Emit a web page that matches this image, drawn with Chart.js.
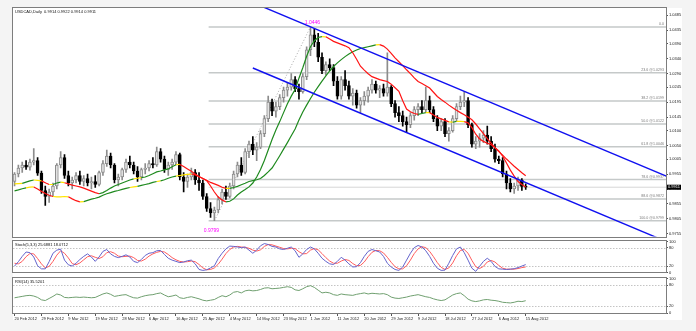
<!DOCTYPE html>
<html>
<head>
<meta charset="utf-8">
<script src="https://cdn.jsdelivr.net/npm/chart.js@4.4.0/dist/chart.umd.min.js"></script>
<style>
  body { margin: 0; background: #f4f4f4; }
  #wrap { position: relative; width: 696px; height: 331px; overflow: hidden; }
  #paper { position: absolute; left: 13px; top: 8px; width: 669px; height: 312px; background: #fff; }
  canvas { position: absolute; left: 0; }
</style>
</head>
<body>
<div id="wrap">
  <div id="paper"></div>
  <canvas id="main" width="696" height="240" style="top:0;width:696px;height:240px"></canvas>
  <canvas id="stoch" width="696" height="38" style="top:238px;width:696px;height:38px"></canvas>
  <canvas id="rsi" width="696" height="56" style="top:275px;width:696px;height:56px"></canvas>
</div>
<script>
// USDCAD daily bars, 20 Feb 2012 .. 15 Aug 2012
const dateLabels = ['20 Feb 2012', '29 Feb 2012', '9 Mar 2012', '19 Mar 2012', '28 Mar 2012',
  '6 Apr 2012', '16 Apr 2012', '25 Apr 2012', '4 May 2012', '14 May 2012', '23 May 2012',
  '1 Jun 2012', '11 Jun 2012', '20 Jun 2012', '29 Jun 2012', '9 Jul 2012', '18 Jul 2012',
  '27 Jul 2012', '6 Aug 2012', '15 Aug 2012'];

const open = [
  0.9930,0.9955,0.9975,0.9985,0.9978,0.9995,1.0000,0.9958,0.9900,0.9880,
  0.9895,0.9915,0.9985,1.0010,0.9950,0.9925,0.9935,0.9950,0.9930,0.9940,
  0.9925,0.9930,0.9920,0.9960,0.9990,1.0015,0.9985,0.9935,0.9945,0.9970,
  0.9995,0.9985,0.9965,0.9945,0.9970,0.9975,0.9990,0.9985,1.0030,1.0005,
  0.9970,0.9985,0.9995,1.0020,0.9945,0.9930,0.9945,0.9960,0.9935,0.9925,
  0.9880,0.9840,0.9825,0.9835,0.9870,0.9895,0.9880,0.9915,0.9955,0.9985,
  0.9960,1.0030,1.0055,1.0035,1.0045,1.0090,1.0140,1.0195,1.0165,1.0180,
  1.0210,1.0235,1.0245,1.0270,1.0240,1.0230,1.0280,1.0370,1.0420,1.0395,
  1.0345,1.0300,1.0320,1.0310,1.0265,1.0215,1.0270,1.0250,1.0215,1.0225,
  1.0185,1.0200,1.0215,1.0235,1.0255,1.0235,1.0240,1.0225,1.0245,1.0190,
  1.0160,1.0150,1.0130,1.0120,1.0150,1.0170,1.0180,1.0170,1.0200,1.0170,
  1.0140,1.0115,1.0130,1.0090,1.0100,1.0140,1.0180,1.0195,1.0200,1.0120,
  1.0055,1.0065,1.0075,1.0085,1.0065,1.0040,1.0005,1.0000,0.9955,0.9925,
  0.9905,0.9915,0.9935,0.9914];
const high = [
  0.9960,0.9985,0.9995,1.0000,1.0005,1.0040,1.0010,0.9965,0.9915,0.9905,
  0.9925,0.9990,1.0030,1.0020,0.9965,0.9945,0.9960,0.9965,0.9950,0.9955,
  0.9945,0.9950,0.9965,1.0000,1.0035,1.0025,0.9990,0.9955,0.9975,1.0005,
  1.0015,0.9995,0.9980,0.9975,0.9990,1.0000,1.0010,1.0045,1.0040,1.0015,
  0.9995,1.0005,1.0030,1.0025,0.9960,0.9955,0.9975,0.9970,0.9960,0.9935,
  0.9890,0.9860,0.9845,0.9880,0.9905,0.9915,0.9925,0.9965,0.9995,1.0010,
  1.0040,1.0065,1.0080,1.0060,1.0100,1.0150,1.0215,1.0205,1.0195,1.0220,
  1.0245,1.0260,1.0290,1.0280,1.0255,1.0290,1.0380,1.0446,1.0440,1.0425,
  1.0360,1.0330,1.0340,1.0320,1.0280,1.0280,1.0300,1.0265,1.0240,1.0235,
  1.0210,1.0230,1.0245,1.0270,1.0265,1.0250,1.0255,1.0360,1.0250,1.0200,
  1.0180,1.0165,1.0145,1.0160,1.0180,1.0190,1.0200,1.0245,1.0215,1.0180,
  1.0150,1.0140,1.0140,1.0110,1.0150,1.0190,1.0215,1.0230,1.0210,1.0125,
  1.0080,1.0090,1.0100,1.0115,1.0080,1.0055,1.0015,1.0010,0.9965,0.9940,
  0.9925,0.9945,0.9940,0.9922];
const low = [
  0.9915,0.9945,0.9960,0.9970,0.9968,0.9985,0.9950,0.9890,0.9850,0.9860,
  0.9880,0.9905,0.9975,0.9940,0.9915,0.9905,0.9925,0.9920,0.9915,0.9915,
  0.9905,0.9910,0.9915,0.9950,0.9980,0.9975,0.9925,0.9915,0.9935,0.9960,
  0.9975,0.9955,0.9930,0.9935,0.9955,0.9965,0.9975,0.9980,0.9995,0.9960,
  0.9950,0.9970,0.9985,0.9935,0.9895,0.9910,0.9935,0.9920,0.9900,0.9870,
  0.9830,0.9810,0.9799,0.9825,0.9855,0.9870,0.9875,0.9905,0.9945,0.9950,
  0.9955,1.0010,1.0020,1.0000,1.0040,1.0080,1.0130,1.0150,1.0145,1.0170,
  1.0195,1.0215,1.0235,1.0230,1.0205,1.0225,1.0270,1.0350,1.0380,1.0330,
  1.0290,1.0285,1.0300,1.0250,1.0205,1.0205,1.0235,1.0205,1.0185,1.0175,
  1.0160,1.0185,1.0195,1.0225,1.0225,1.0210,1.0215,1.0215,1.0180,1.0145,
  1.0130,1.0115,1.0095,1.0110,1.0135,1.0150,1.0160,1.0160,1.0160,1.0130,
  1.0100,1.0100,1.0080,1.0065,1.0095,1.0130,1.0170,1.0180,1.0110,1.0045,
  1.0040,1.0045,1.0060,1.0055,1.0030,0.9995,0.9990,0.9945,0.9905,0.9895,
  0.9890,0.9900,0.9900,0.9904];
const close = [
  0.9955,0.9975,0.9985,0.9978,0.9995,1.0000,0.9958,0.9900,0.9880,0.9895,
  0.9915,0.9985,1.0010,0.9950,0.9925,0.9935,0.9950,0.9930,0.9940,0.9925,
  0.9930,0.9920,0.9960,0.9990,1.0015,0.9985,0.9935,0.9945,0.9970,0.9995,
  0.9985,0.9965,0.9945,0.9970,0.9975,0.9990,0.9985,1.0030,1.0005,0.9970,
  0.9985,0.9995,1.0020,0.9945,0.9930,0.9945,0.9960,0.9935,0.9925,0.9880,
  0.9840,0.9825,0.9835,0.9870,0.9895,0.9880,0.9915,0.9955,0.9985,0.9960,
  1.0030,1.0055,1.0035,1.0045,1.0090,1.0140,1.0195,1.0165,1.0180,1.0210,
  1.0235,1.0245,1.0270,1.0240,1.0230,1.0280,1.0370,1.0420,1.0395,1.0345,
  1.0300,1.0320,1.0310,1.0265,1.0215,1.0270,1.0250,1.0215,1.0225,1.0185,
  1.0200,1.0215,1.0235,1.0255,1.0235,1.0240,1.0225,1.0245,1.0190,1.0160,
  1.0150,1.0130,1.0120,1.0150,1.0170,1.0180,1.0170,1.0200,1.0170,1.0140,
  1.0115,1.0130,1.0090,1.0100,1.0140,1.0180,1.0195,1.0200,1.0120,1.0055,
  1.0065,1.0075,1.0085,1.0065,1.0040,1.0005,1.0000,0.9955,0.9925,0.9905,
  0.9915,0.9935,0.9914,0.9911];

// moving averages as plotted on the chart
const maFast = [
  0.9899,0.9902,0.9906,0.9909,0.9911,0.9912,0.9905,0.9897,0.9890,0.9884,
  0.9880,0.9879,0.9879,0.9880,0.9879,0.9872,0.9866,0.9862,0.9863,0.9867,
  0.9871,0.9874,0.9878,0.9884,0.9889,0.9893,0.9897,0.9900,0.9904,0.9907,
  0.9910,0.9912,0.9914,0.9917,0.9920,0.9923,0.9927,0.9930,0.9932,0.9936,
  0.9941,0.9945,0.9948,0.9950,0.9952,0.9954,0.9955,0.9952,0.9946,0.9940,
  0.9933,0.9915,0.9895,0.9878,0.9868,0.9862,0.9864,0.9872,0.9885,0.9895,
  0.9903,0.9912,0.9925,0.9945,0.9970,1.0000,1.0035,1.0070,1.0102,1.0130,
  1.0160,1.0190,1.0215,1.0237,1.0275,1.0310,1.0348,1.0380,1.0400,1.0411,
  1.0414,1.0413,1.0406,1.0398,1.0393,1.0388,1.0383,1.0377,1.0360,1.0338,
  1.0315,1.0302,1.0290,1.0280,1.0275,1.0270,1.0267,1.0264,1.0255,1.0243,
  1.0231,1.0200,1.0172,1.0163,1.0157,1.0154,1.0157,1.0160,1.0160,1.0152,
  1.0144,1.0139,1.0134,1.0129,1.0128,1.0131,1.0131,1.0130,1.0126,1.0110,
  1.0088,1.0072,1.0064,1.0058,1.0053,1.0043,1.0032,1.0015,0.9992,0.9968,
  0.9948,0.9930,0.9920,0.9912];
const maSlow = [
  0.9922,0.9923,0.9924,0.9928,0.9932,0.9935,0.9934,0.9932,0.9926,0.9920,
  0.9920,0.9925,0.9928,0.9926,0.9922,0.9918,0.9915,0.9912,0.9908,0.9903,
  0.9898,0.9893,0.9889,0.9893,0.9900,0.9908,0.9915,0.9920,0.9925,0.9930,
  0.9935,0.9939,0.9941,0.9943,0.9945,0.9950,0.9956,0.9962,0.9965,0.9969,
  0.9972,0.9979,0.9986,0.9987,0.9980,0.9972,0.9964,0.9955,0.9947,0.9940,
  0.9934,0.9927,0.9922,0.9917,0.9911,0.9907,0.9907,0.9910,0.9914,0.9919,
  0.9924,0.9930,0.9933,0.9936,0.9940,0.9950,0.9962,0.9975,0.9995,1.0016,
  1.0038,1.0060,1.0083,1.0105,1.0135,1.0162,1.0185,1.0207,1.0228,1.0247,
  1.0265,1.0283,1.0299,1.0314,1.0326,1.0337,1.0347,1.0356,1.0363,1.0369,
  1.0374,1.0377,1.0380,1.0383,1.0386,1.0387,1.0382,1.0372,1.0358,1.0343,
  1.0330,1.0317,1.0303,1.0290,1.0276,1.0264,1.0257,1.0250,1.0242,1.0228,
  1.0214,1.0204,1.0195,1.0185,1.0176,1.0168,1.0160,1.0153,1.0145,1.0136,
  1.0122,1.0106,1.0090,1.0073,1.0058,1.0043,1.0030,1.0018,1.0005,0.9993,
  0.9981,0.9970,0.9959,0.9949];

// Stochastic(5,3,3): main and signal
const stochMain = [
  21,35,52,66,64,50,22,12,12,35,
  62,72,75,40,25,21,30,42,52,60,
  50,36,50,68,74,60,52,48,52,57,
  50,36,32,42,55,62,64,70,71,58,
  46,40,36,32,34,38,40,28,10,7,
  9,15,22,45,62,76,85,84,82,80,
  82,72,62,72,86,93,90,84,82,76,
  74,78,82,70,49,60,74,82,76,62,
  46,36,28,26,36,49,40,28,18,19,
  32,52,68,74,70,66,52,30,18,10,
  7,18,40,62,80,87,82,70,52,30,
  14,7,8,30,55,76,82,64,40,14,
  4,20,36,46,36,20,12,11,10,11,
  12.5,16,21,25.6881];
const stochSignal = [
  30,28,36,51,61,60,45,28,15,20,
  36,56,70,62,47,29,25,31,41,51,
  54,49,45,51,64,67,62,53,51,52,
  53,48,39,37,43,53,60,65,68,66,
  58,48,41,36,34,35,37,35,26,15,
  9,10,15,27,43,61,74,82,84,82,
  81,78,72,69,73,84,90,89,85,81,
  77,76,78,77,67,60,61,72,77,73,
  61,48,37,30,30,37,42,39,29,22,
  23,34,51,65,71,70,63,49,33,19,
  12,12,22,40,61,76,83,80,68,51,
  32,17,10,15,31,54,71,74,62,39,
  19,13,20,34,39,34,23,14,11,11,
  11,13,16,18.0712];

// RSI(14)
const rsi = [
  44,46,48,50,51,49,45,38,36,42,
  48,55,52,45,44,45,46,45,46,45,
  44,45,50,55,58,54,48,50,52,53,
  48,44,43,47,50,52,53,56,58,52,
  47,49,52,44,42,45,47,44,41,37,
  35,37,39,45,50,47,52,60,62,58,
  64,66,64,65,68,72,73,70,71,72,
  74,76,74,67,65,70,76,79,74,66,
  58,60,58,53,51,55,53,52,51,54,
  56,58,55,57,56,55,56,53,46,43,
  42,44,46,49,51,53,50,47,45,41,
  38,36,38,45,52,56,58,50,40,35,
  33,35,38,39,37,36,34,31,30,29,
  31,34,33,35.5201];

const priceTicks = [1.0485, 1.0435, 1.0390, 1.0340, 1.0290, 1.0245, 1.0195, 1.0145,
  1.0100, 1.0050, 1.0005, 0.9955, 0.9905, 0.9855, 0.9805, 0.9755];

// Fibonacci retracement of the 0.9799 -> 1.0446 swing
const fibRatios = ['0.0', '23.6', '38.2', '50.0', '61.8', '78.6', '88.6', '100.0'];
const fibPrices = [1.0446, 1.0293, 1.0199, 1.0122, 1.0046, 0.9937, 0.9872, 0.9799];
const fibStart = 50.5;

// trend channel anchors [bar, price]
const channelUpper = [[60, 1.0538], [170, 0.99455]];
const channelLower = [[62, 1.0309], [170, 0.97272]];
const fibTrend = [[52, 0.9799], [77, 1.0446]];

const X_MIN = -0.4, X_MAX = 169.5;
const FONT = '"Liberation Sans", Arial, sans-serif';
Chart.defaults.font.family = FONT;
Chart.defaults.font.size = 4;
Chart.defaults.color = '#222';

const N = close.length;
const idx = close.map((_, i) => i);
const isUp = i => close[i] >= open[i];
const pts = arr => arr.map((v, i) => ({ x: i, y: v }));
const seg = arr => arr.map(([x, y]) => ({ x, y }));

const hiBar = high.indexOf(Math.max(...high));
const loBar = low.indexOf(Math.min(...low));

// rising = green, falling = red, flat = yellow
const maColors = {
  borderColor: c => {
    const d = c.p1.parsed.y - c.p0.parsed.y;
    return d > 0.0002 ? '#1f8a1f' : d < -0.0002 ? '#ff1414' : '#ffe400';
  }
};

function xScale(show) {
  const s = {
    type: 'linear', min: X_MIN, max: X_MAX, offset: false, display: show,
    grid: { display: show, drawOnChartArea: false, drawTicks: true, tickLength: 3, color: '#555', offset: false },
    border: { display: false }
  };
  if (show) {
    s.afterBuildTicks = sc => { sc.ticks = dateLabels.map((_, k) => ({ value: k * 7 })); };
    s.afterFit = sc => { sc.height = 18; };
    s.ticks = { autoSkip: false, maxRotation: 0, minRotation: 0, align: 'start', padding: 0,
      callback: (v, k) => dateLabels[k] };
  }
  return s;
}

function yScale(min, max, ticks, fmt) {
  return {
    type: 'linear', position: 'right', min, max,
    afterBuildTicks: sc => { sc.ticks = ticks.map(v => ({ value: v })); },
    afterFit: sc => { sc.width = 30; },
    ticks: { padding: 1, callback: fmt },
    grid: { drawOnChartArea: false, drawTicks: true, tickLength: 2, color: '#555' },
    border: { display: false }
  };
}

// panel border and caption
const panel = {
  id: 'panel',
  afterDraw(chart, args, opts) {
    const { ctx, chartArea: a } = chart;
    ctx.save();
    ctx.strokeStyle = '#7d7d7d';
    ctx.lineWidth = 1;
    ctx.strokeRect(Math.round(a.left) - 0.5, Math.round(a.top) - 0.5,
      Math.round(a.right - a.left) + 1, Math.round(a.bottom - a.top) + 1);
    ctx.fillStyle = '#111';
    ctx.font = '4px ' + FONT;
    ctx.textBaseline = 'middle';
    ctx.fillText(opts.text, a.left + 2, a.top + 3.5);
    ctx.restore();
  }
};

// dotted 20/80 levels for the oscillators
const levels = {
  id: 'levels',
  beforeDatasetsDraw(chart) {
    const { ctx, chartArea: a, scales: { y } } = chart;
    ctx.save();
    ctx.strokeStyle = '#c4c4c4';
    ctx.lineWidth = 1;
    ctx.setLineDash([1.5, 1.5]);
    [20, 80].forEach(v => {
      const py = Math.round(y.getPixelForValue(v)) + 0.5;
      ctx.beginPath(); ctx.moveTo(a.left, py); ctx.lineTo(a.right, py); ctx.stroke();
    });
    ctx.restore();
  }
};

// fibo captions, swing extremes, last price marker
const priceNotes = {
  id: 'priceNotes',
  afterDatasetsDraw(chart) {
    const { ctx, chartArea: a, scales: { x, y } } = chart;
    ctx.save();
    ctx.beginPath();
    ctx.rect(a.left, a.top, a.right - a.left, a.bottom - a.top);
    ctx.clip();
    ctx.font = '3.6px ' + FONT;
    ctx.fillStyle = '#7a7a7a';
    ctx.textAlign = 'right';
    ctx.textBaseline = 'bottom';
    fibPrices.forEach((p, k) => {
      const t = k === 0 ? fibRatios[k] : fibRatios[k] + ' @' + p.toFixed(4);
      ctx.fillText(t, a.right - 2, y.getPixelForValue(p) - 1);
    });
    ctx.font = '5px ' + FONT;
    ctx.fillStyle = '#ff00ff';
    ctx.textAlign = 'center';
    ctx.textBaseline = 'bottom';
    ctx.fillText(high[hiBar].toFixed(4), x.getPixelForValue(hiBar) + 2, y.getPixelForValue(high[hiBar]) - 2);
    ctx.textBaseline = 'top';
    ctx.fillText(low[loBar].toFixed(4), x.getPixelForValue(loBar) - 3, y.getPixelForValue(low[loBar]) + 7);
    ctx.restore();
  },
  afterDraw(chart) {
    const { ctx, chartArea: a, scales: { y } } = chart;
    const last = close[N - 1];
    const py = y.getPixelForValue(last);
    ctx.save();
    ctx.fillStyle = '#000';
    ctx.fillRect(a.right + 1, py - 2.5, 14, 5);
    ctx.fillStyle = '#fff';
    ctx.font = '4px ' + FONT;
    ctx.textBaseline = 'middle';
    ctx.fillText(last.toFixed(4), a.right + 2, py);
    ctx.restore();
  }
};

new Chart(document.getElementById('main'), {
  type: 'bar',
  data: {
    datasets: [
      ...fibPrices.map(p => ({
        type: 'line', data: [{ x: fibStart, y: p }, { x: X_MAX + 1, y: p }],
        borderColor: '#c5c9c9', borderWidth: 1.5, pointRadius: 0, clip: 0, order: 12
      })),
      { type: 'line', data: [{ x: fibStart, y: close[N - 1] }, { x: X_MAX + 1, y: close[N - 1] }],
        borderColor: '#d6d6d6', borderWidth: 1, pointRadius: 0, clip: 0, order: 12 },
      { type: 'line', data: seg(fibTrend), borderColor: '#a8a8a8', borderWidth: 1,
        borderDash: [1, 2], pointRadius: 0, clip: 0, order: 11 },
      { type: 'bar', data: idx.map(i => ({ x: i, y: [low[i], high[i]] })), barThickness: 1,
        backgroundColor: idx.map(i => isUp(i) ? '#8c8c8c' : '#000'), borderWidth: 0,
        grouped: false, order: 7 },
      { type: 'bar', data: idx.map(i => ({ x: i, y: [open[i], close[i]] })), barThickness: 3,
        backgroundColor: idx.map(i => isUp(i) ? '#e2e2e2' : '#000'),
        borderColor: idx.map(i => isUp(i) ? '#8c8c8c' : '#000'), borderWidth: 1,
        borderSkipped: false, minBarLength: 1, grouped: false, order: 6 },
      { type: 'line', data: pts(maSlow), borderWidth: 1.2, pointRadius: 0, segment: maColors,
        borderColor: '#1f8a1f', clip: 0, order: 3 },
      { type: 'line', data: pts(maFast), borderWidth: 1.2, pointRadius: 0, segment: maColors,
        borderColor: '#1f8a1f', clip: 0, order: 2 },
      { type: 'line', data: seg(channelUpper), borderColor: '#1010f0', borderWidth: 1.4,
        pointRadius: 0, clip: 0, order: 1 },
      { type: 'line', data: seg(channelLower), borderColor: '#1010f0', borderWidth: 1.4,
        pointRadius: 0, clip: 0, order: 1 }
    ]
  },
  options: {
    responsive: false, animation: false, events: [],
    layout: { padding: { left: 13, top: 8, bottom: 2, right: 0 }, autoPadding: false },
    plugins: { legend: { display: false }, tooltip: { enabled: false },
      panel: { text: 'USDCAD,Daily  0.9914 0.9922 0.9914 0.9911' } },
    scales: {
      x: xScale(false),
      y: yScale(0.97461, 1.05093, priceTicks, v => v.toFixed(4))
    }
  },
  plugins: [panel, priceNotes]
});

new Chart(document.getElementById('stoch'), {
  type: 'line',
  data: {
    datasets: [
      { data: pts(stochSignal), borderColor: '#ff5c5c', borderWidth: 1, pointRadius: 0, order: 2 },
      { data: pts(stochMain), borderColor: '#6464cc', borderWidth: 1, pointRadius: 0, order: 1 }
    ]
  },
  options: {
    responsive: false, animation: false, events: [],
    layout: { padding: { left: 13, top: 1, bottom: 1, right: 0 }, autoPadding: false },
    plugins: { legend: { display: false }, tooltip: { enabled: false },
      panel: { text: 'Stoch(5,3,3) 25.6881 18.0712' } },
    scales: { x: xScale(false), y: yScale(0, 100, [0, 20, 80, 100], v => String(v)) }
  },
  plugins: [levels, panel]
});

new Chart(document.getElementById('rsi'), {
  type: 'line',
  data: {
    datasets: [
      { data: pts(rsi), borderColor: '#6f9f6f', borderWidth: 1, pointRadius: 0 }
    ]
  },
  options: {
    responsive: false, animation: false, events: [],
    layout: { padding: { left: 13, top: 1, bottom: 0, right: 0 }, autoPadding: false },
    plugins: { legend: { display: false }, tooltip: { enabled: false },
      panel: { text: 'RSI(14) 35.5201' } },
    scales: { x: xScale(true), y: yScale(0, 100, [0, 20, 80, 100], v => String(v)) }
  },
  plugins: [levels, panel]
});
</script>
</body>
</html>
